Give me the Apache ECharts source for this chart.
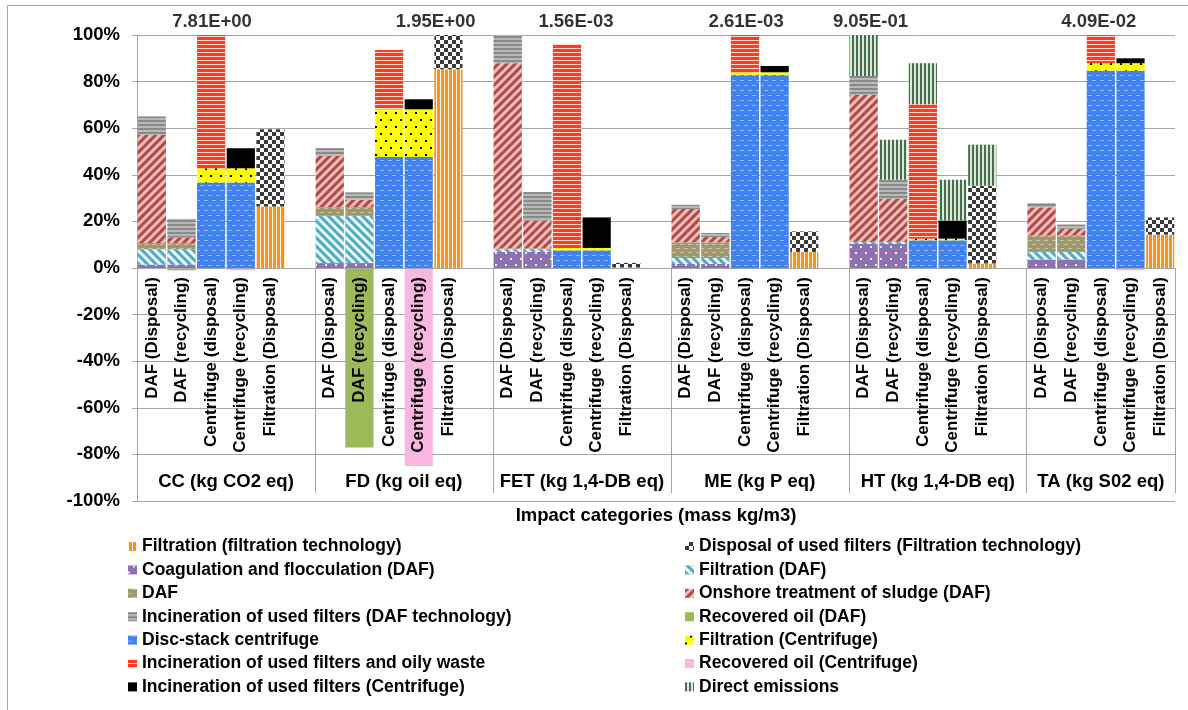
<!DOCTYPE html>
<html>
<head>
<meta charset="utf-8">
<title>Impact categories</title>
<script src="https://cdn.jsdelivr.net/npm/echarts@6/dist/echarts.min.js"></script>
<style>
  html, body { margin: 0; padding: 0; background: #ffffff; }
  #chart { width: 1188px; height: 710px; }
</style>
</head>
<body>
<div id="chart"></div>
<script>
// ---- data -------------------------------------------------------------
// Bars inside every impact category
const barLabels = ['DAF (Disposal)', 'DAF (recycling)', 'Centrifuge (disposal)', 'Centrifuge (recycling)', 'Filtration (Disposal)'];
// Impact categories (bar groups)
const groupNames = ['CC (kg CO2 eq)', 'FD (kg oil eq)', 'FET (kg 1,4-DB eq)', 'ME (kg P eq)', 'HT (kg 1,4-DB eq)', 'TA (kg S02 eq)'];
// Absolute value that 100 % stands for in each category
const groupTotals = ['7.81E+00', '1.95E+00', '1.56E-03', '2.61E-03', '9.05E-01', '4.09E-02'];
// Y axis ticks (percent)
const yMin = -100, yMax = 100, yStep = 20;

// Contributions in % — one row per category (CC, FD, FET, ME, HT, TA), one entry per bar
const filtrationFT = [
  [null, null, null, null, 26.4], [null, null, null, null, 85.3], [null, null, null, null, 0.2],
  [null, null, null, null, 6.9], [null, null, null, null, 1.9], [null, null, null, null, 14.3]];
const disposalFT = [
  [null, null, null, null, 33.2], [null, null, null, null, 14.7], [null, null, null, null, 2.0],
  [null, null, null, null, 8.8], [null, null, null, null, 33.4], [null, null, null, null, 7.4]];
const coagulationDAF = [
  [1.4, 1.4, null, null, null], [2.1, 2.1, null, null, null], [6.9, 6.9, null, null, null],
  [1.7, 1.7, null, null, null], [10.3, 10.3, null, null, null], [3.6, 3.6, null, null, null]];
const filtrationDAF = [
  [6.7, 6.7, null, null, null], [20.3, 20.3, null, null, null], [1.2, 1.2, null, null, null],
  [2.6, 2.6, null, null, null], [0.8, 0.8, null, null, null], [3.3, 3.3, null, null, null]];
const dafUnit = [
  [2.6, 2.6, null, null, null], [3.7, 3.7, null, null, null], [0.3, 0.3, null, null, null],
  [6.7, 6.7, null, null, null], [0.2, 0.2, null, null, null], [7.1, 7.1, null, null, null]];
const onshoreSludge = [
  [46.4, 2.4, null, null, null], [22.0, 3.2, null, null, null], [79.5, 12.0, null, null, null],
  [14.3, 2.3, null, null, null], [63.0, 18.4, null, null, null], [12.0, 2.9, null, null, null]];
const incinerationDAF = [
  [7.9, 8.0, null, null, null], [3.3, 3.1, null, null, null], [12.1, 12.2, null, null, null],
  [1.8, 1.7, null, null, null], [8.1, 8.2, null, null, null], [1.9, 1.7, null, null, null]];
const recoveredOilDAF = [
  [null, -1.0, null, null, null], [null, -77.0, null, null, null], [null, null, null, null, null],
  [null, null, null, null, null], [null, null, null, null, null], [null, null, null, null, null]];
const discStack = [
  [null, null, 36.7, 36.7, null], [null, null, 47.6, 47.6, null], [null, null, 7.6, 7.6, null],
  [null, null, 82.9, 82.9, null], [null, null, 11.9, 11.9, null], [null, null, 84.7, 84.7, null]];
const filtrationCentrifuge = [
  [null, null, 6.1, 6.1, null], [null, null, 20.5, 20.5, null], [null, null, 1.0, 1.0, null],
  [null, null, 1.1, 1.1, null], [null, null, 0.7, 0.7, null], [null, null, 3.2, 3.2, null]];
const incinerationOily = [
  [null, null, 57.2, null, null], [null, null, 25.5, null, null], [null, null, 87.5, null, null],
  [null, null, 16.0, null, null], [null, null, 57.7, null, null], [null, null, 12.1, null, null]];
const recoveredOilCentrifuge = [
  [null, null, null, -1.0, null], [null, null, null, -85.0, null], [null, null, null, null, null],
  [null, null, null, null, null], [null, null, null, null, null], [null, null, null, -1.0, null]];
const incinerationCentrifuge = [
  [null, null, null, 8.6, null], [null, null, null, 4.3, null], [null, null, null, 13.1, null],
  [null, null, null, 2.7, null], [null, null, null, 7.8, null], [null, null, null, 2.1, null]];
const directEmissions = [
  [null, null, null, null, null], [null, null, null, null, null], [null, null, null, null, null],
  [null, null, null, null, null], [17.6, 17.1, 17.6, 17.5, 17.6], [null, null, null, null, null]];

// ---- layout helpers ---------------------------------------------------
// one empty slot separates consecutive categories on the x axis
function flatten(rows, blank) {
  const out = [];
  rows.forEach((row, g) => {
    row.forEach(v => out.push(v === null ? '-' : v));
    if (g < rows.length - 1) out.push(blank);
  });
  return out;
}
const categories = flatten(groupNames.map(() => barLabels), '');
const slotCount = categories.length;
const groupStart = groupNames.map((_, g) => g * (barLabels.length + 1));
const groupEnd = groupNames.map((_, g) => g < groupNames.length - 1 ? groupStart[g] + barLabels.length + 1 : slotCount);
const groupCenter = groupNames.map((_, g) => (groupStart[g] + groupEnd[g]) / 2);
// horizontal anchor of the total labels, in slot units
const totalLabelPos = [2.53, 10.07, 14.8, 20.54, 24.73, 32.43];

const CHART_H = 710;
const GRID = { left: 137, right: 13, top: 35, bottom: 209 };
const plotH = CHART_H - GRID.top - GRID.bottom;
// the category axes sit on the 0 % line
const zeroOffset = -plotH * (0 - yMin) / (yMax - yMin);

const FONT = "'Liberation Sans', Arial, Helvetica, sans-serif";
const GRID_COLOR = '#A6A6A6';
const diag = Math.PI / 4;

// fill colour + hatch pattern of every contributor
const seriesDefs = [
  { name: 'Filtration (filtration technology)', rows: filtrationFT, color: '#F7931E',
    decal: { symbol: 'rect', symbolSize: 1, color: 'rgba(255,255,255,0.9)', dashArrayX: [1, 3], dashArrayY: [1, 0] } },
  { name: 'Disposal of used filters (Filtration technology)', rows: disposalFT, color: '#FFFFFF',
    decal: { symbol: 'rect', symbolSize: 1, color: '#3A3A3A', dashArrayX: [[4, 4], [0, 4, 4, 0]], dashArrayY: [4, 0] } },
  { name: 'Coagulation and flocculation (DAF)', rows: coagulationDAF, color: '#8C72B0',
    decal: { symbol: 'rect', symbolSize: 1, color: 'rgba(255,255,255,0.85)', dashArrayX: [[2, 8], [0, 5, 2, 3]], dashArrayY: [2, 4] } },
  { name: 'Filtration (DAF)', rows: filtrationDAF, color: '#4BACC6',
    decal: { symbol: 'rect', symbolSize: 1, color: 'rgba(255,255,255,0.92)', dashArrayX: [1, 0], dashArrayY: [3, 3], rotation: diag } },
  { name: 'DAF', rows: dafUnit, color: '#A0976C',
    decal: { symbol: 'rect', symbolSize: 1, color: 'rgba(255,255,255,0.4)', dashArrayX: [[4, 4], [0, 4, 4, 0]], dashArrayY: [1, 3] } },
  { name: 'Onshore treatment of sludge (DAF)', rows: onshoreSludge, color: '#EDBDBC',
    decal: { symbol: 'rect', symbolSize: 1, color: '#B14A47', dashArrayX: [1, 0], dashArrayY: [3, 3], rotation: -diag } },
  { name: 'Incineration of used filters (DAF technology)', rows: incinerationDAF, color: '#B8B8B8',
    decal: { symbol: 'rect', symbolSize: 1, color: '#8A8A8A', dashArrayX: [1, 0], dashArrayY: [2, 2] } },
  { name: 'Recovered oil (DAF)', rows: recoveredOilDAF, color: '#9BBB59', decal: null },
  { name: 'Disc-stack centrifuge', rows: discStack, color: '#3F82F0',
    decal: { symbol: 'rect', symbolSize: 1, color: 'rgba(255,255,255,0.45)', dashArrayX: [[4, 4], [0, 4, 4, 0]], dashArrayY: [1, 4] } },
  { name: 'Filtration (Centrifuge)', rows: filtrationCentrifuge, color: '#FFFF00',
    decal: { symbol: 'rect', symbolSize: 1, color: '#000000', dashArrayX: [[2, 8], [0, 5, 2, 3]], dashArrayY: [2, 5] } },
  { name: 'Incineration of used filters and oily waste', rows: incinerationOily, color: '#FF3B1F',
    decal: { symbol: 'rect', symbolSize: 1, color: 'rgba(255,236,230,0.9)', dashArrayX: [1, 0], dashArrayY: [1, 3] } },
  { name: 'Recovered oil (Centrifuge)', rows: recoveredOilCentrifuge, color: '#FAB6E0', decal: null },
  { name: 'Incineration of used filters (Centrifuge)', rows: incinerationCentrifuge, color: '#000000', decal: null },
  { name: 'Direct emissions', rows: directEmissions, color: '#D6EDD3',
    decal: { symbol: 'rect', symbolSize: 1, color: '#4E6A52', dashArrayX: [2, 2], dashArrayY: [1, 0] } }
];

const barSeries = seriesDefs.map(d => ({
  name: d.name,
  type: 'bar',
  stack: 'share',
  barCategoryGap: '5%',
  data: flatten(d.rows, '-'),
  itemStyle: Object.assign({ color: d.color }, d.decal ? { decal: d.decal } : {}),
  emphasis: { disabled: true }
}));

const totalSeries = {
  type: 'scatter',
  xAxisIndex: 1,
  yAxisIndex: 0,
  symbolSize: 0,
  silent: true,
  data: groupTotals.map((t, g) => ({ value: [totalLabelPos[g], yMax], name: t })),
  label: {
    show: true, position: 'top', distance: 4,
    formatter: p => p.name,
    fontFamily: FONT, fontWeight: 'bold', fontSize: 18.5, color: '#000'
  },
  z: 10
};

const legendText = { fontFamily: FONT, fontWeight: 'bold', fontSize: 17.5, color: '#000', lineHeight: 18 };
const legendBase = {
  orient: 'vertical', icon: 'rect', itemWidth: 9, itemHeight: 9, itemGap: 5.4,
  selectedMode: false, textStyle: legendText, top: 537.5, padding: 0
};

const option = {
  animation: false,
  backgroundColor: '#ffffff',
  grid: Object.assign({ outerBoundsMode: 'none' }, GRID),
  legend: [
    Object.assign({ left: 128, data: seriesDefs.filter((_, i) => i % 2 === 0).map(d => d.name) }, legendBase),
    Object.assign({ left: 685, data: seriesDefs.filter((_, i) => i % 2 === 1).map(d => d.name) }, legendBase)
  ],
  xAxis: [
    {
      type: 'category',
      data: categories,
      position: 'bottom',
      offset: zeroOffset,
      z: 4,
      axisLine: { show: true, onZero: false, lineStyle: { color: GRID_COLOR, width: 1 } },
      axisTick: { show: false },
      axisLabel: {
        interval: 0, rotate: 90, margin: 9,
        fontFamily: FONT, fontWeight: 'bold', fontSize: 17, color: '#000'
      },
      splitLine: { show: false }
    },
    {
      type: 'value',
      min: 0, max: slotCount,
      position: 'bottom',
      offset: zeroOffset,
      z: 4,
      axisLine: { show: false, onZero: false },
      axisTick: {
        show: true, customValues: groupEnd, length: 225,
        lineStyle: { color: GRID_COLOR, width: 1 }
      },
      axisLabel: {
        customValues: groupCenter, margin: 204,
        formatter: v => groupNames[groupCenter.indexOf(v)] || '',
        fontFamily: FONT, fontWeight: 'bold', fontSize: 18.5, color: '#000'
      },
      splitLine: { show: false },
      name: 'Impact categories (mass kg/m3)',
      nameLocation: 'middle',
      nameGap: 238,
      nameTextStyle: { fontFamily: FONT, fontWeight: 'bold', fontSize: 18.5, color: '#000' }
    }
  ],
  yAxis: {
    type: 'value',
    min: yMin, max: yMax, interval: yStep,
    axisLine: { show: true, onZero: false, lineStyle: { color: GRID_COLOR, width: 1 } },
    axisTick: { show: true, length: 5, lineStyle: { color: GRID_COLOR } },
    axisLabel: {
      formatter: '{value}%', margin: 17,
      fontFamily: FONT, fontWeight: 'bold', fontSize: 18.5, color: '#000'
    },
    splitLine: { show: true, lineStyle: { color: GRID_COLOR, width: 1 } }
  },
  graphic: [{
    type: 'rect', silent: true, z: -10,
    shape: { x: 7.5, y: 5.5, width: 1400, height: 900 },
    style: { fill: 'none', stroke: GRID_COLOR, lineWidth: 1 }
  }],
  series: barSeries.concat([totalSeries])
};

const chart = echarts.init(document.getElementById('chart'), null, { renderer: 'canvas' });
chart.setOption(option);
</script>
</body>
</html>
